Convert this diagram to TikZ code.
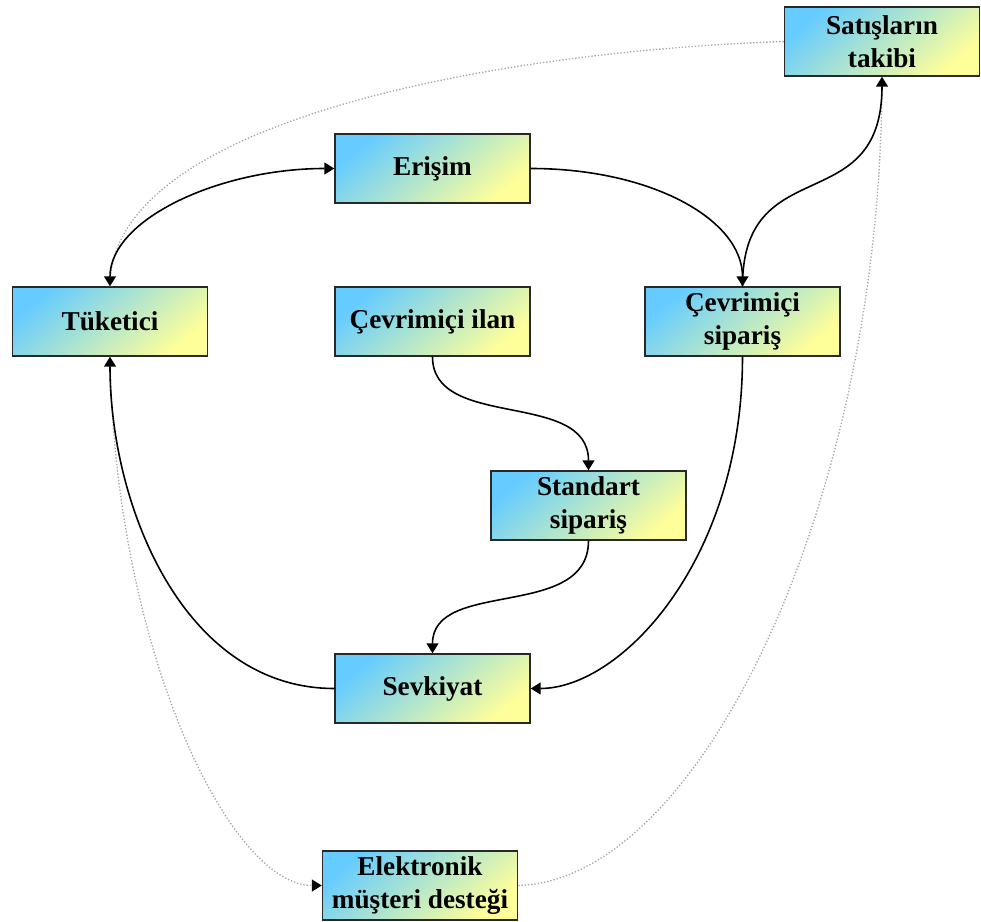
\documentclass[tikz,border=0pt]{standalone}
\usepackage{fontspec}
\setmainfont{Liberation Serif}
\usetikzlibrary{arrows.meta}
\definecolor{boxblue}{RGB}{102,204,255}
\definecolor{boxyellow}{RGB}{255,255,153}
\definecolor{boxline}{RGB}{40,40,40}
\tikzset{
  box/.style={draw=boxline, line width=0.85pt, top color=boxblue, bottom color=boxyellow, shading angle=40,
    minimum width=3.9cm, minimum height=1.38cm, inner sep=1pt, align=center,
    font=\fontsize{15.5}{18.8}\selectfont\bfseries},
  conn/.style={draw=black, line width=0.9pt, -{Triangle[length=0.2cm,width=0.24cm]}},
  dotconn/.style={draw=gray!70, line width=0.75pt, dash pattern=on 0.75pt off 1.1pt},
  dottip/.style={-{Triangle[length=0.2cm,width=0.24cm,color=black,fill=black]}}
}
\begin{document}
\begin{tikzpicture}[x=0.02cm,y=-0.02cm]
\useasboundingbox (0,0) rectangle (981,922);
\node[box] (sat) at (882,41.5) {Satışların\\takibi};
\node[box] (eri) at (432.5,168.5) {Erişim};
\node[box] (tuk) at (110,321.5) {Tüketici};
\node[box] (ilan) at (432.5,321.5) {Çevrimiçi ilan};
\node[box] (csip) at (742.5,321.5) {Çevrimiçi\\sipariş};
\node[box] (std) at (588.5,505.5) {Standart\\sipariş};
\node[box] (sev) at (432.5,688.5) {Sevkiyat};
\node[box] (ele) at (420,885.5) {Elektronik\\müşteri desteği};

% dotted connectors
\draw[dotconn] (sat.west) .. controls +(-290,10) and +(0,-165) .. (tuk.north);
\draw[dotconn, dottip] (tuk.south) .. controls +(5,294) and +(-92,0) .. (ele.west);
\draw[dotconn] (ele.east) .. controls +(182,-5) and +(0,424) .. (sat.south);

% solid connectors
\draw[conn, {Triangle[length=0.2cm,width=0.24cm]}-{Triangle[length=0.2cm,width=0.24cm]}]
  (tuk.north) .. controls +(0,-67) and +(-115,0) .. (eri.west);
\draw[conn] (eri.east) .. controls +(120,0) and +(0,-67) .. (csip.north);
\draw[conn] (csip.north) .. controls +(0,-137) and +(0,144) .. (sat.south);
\draw[conn] (ilan.south) .. controls +(0,74) and +(0,-81) .. (std.north);
\draw[conn] (std.south) .. controls +(0,80) and +(0,-75) .. (sev.north);
\draw[conn] (csip.south) .. controls +(0,204) and +(90,0) .. (sev.east);
\draw[conn] (sev.west) .. controls +(-150,0) and +(0,150) .. (tuk.south);
\end{tikzpicture}
\end{document}
